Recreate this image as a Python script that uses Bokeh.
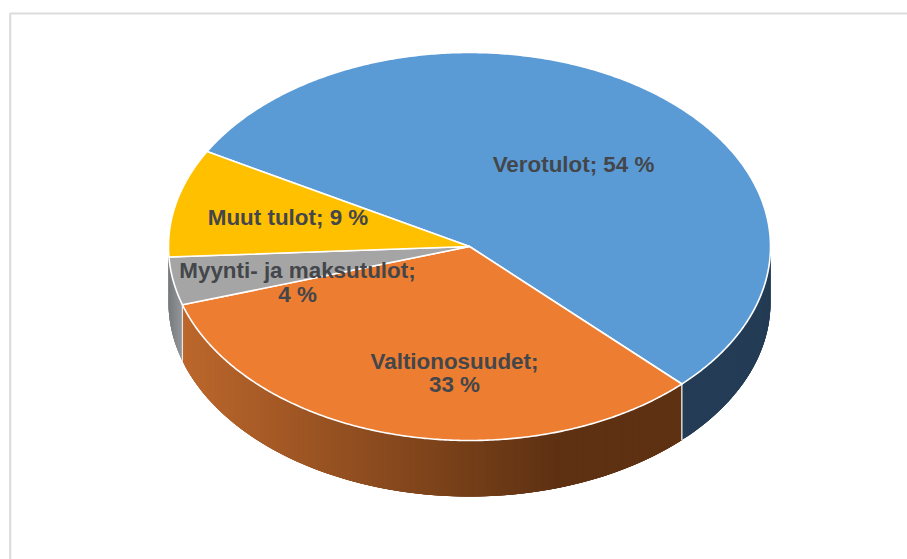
import numpy as np
from bokeh.plotting import figure
from bokeh.models import Range1d
from bokeh.core.properties import value
from bokeh.embed import file_html
from bokeh.resources import INLINE

# data (clockwise from the upper-left start); shares
categories = ["Verotulot", "Valtionosuudet", "Myynti- ja maksutulot", "Muut tulot"]
shares = [54.4, 32.6, 4, 9]
colors = ["#5b9bd5", "#ed7d31", "#a5a5a5", "#ffc000"]
labels = ["Verotulot; 54 %", "Valtionosuudet;\n33 %", "Myynti- ja maksutulot;\n4 %", "Muut tulot; 9 %"]

# layout
W, H = 907, 559
CX, CY, RX, RY, DEPTH = 469, 246, 301, 194, 56
START_DEG = 150.7
label_x = [573, 454, 297, 287.5]
label_y = [164, 372.5, 282, 217]

p = figure(width=W, height=H, output_backend="svg", toolbar_location=None,
           x_range=Range1d(0, W), y_range=Range1d(H, 0), min_border=0,
           x_axis_type=None, y_axis_type=None, outline_line_color=None,
           background_fill_color="white", border_fill_color="white")
p.grid.visible = False

# frame
p.line([9.7, 9.7, W], [H, 13, 13], line_color="#dcdcdc", line_width=2.2)


def pt(deg):
    a = np.radians(deg)
    return CX + RX * np.cos(a), CY - RY * np.sin(a)


edges = START_DEG - np.cumsum([0] + shares) * 3.6


def lerp(c1, c2, t):
    t = min(max(t, 0.0), 1.0)
    return "#%02x%02x%02x" % tuple(int(round(a + (b - a) * t)) for a, b in zip(c1, c2))


def side_color(i, x):
    if i == 1:
        return lerp((188, 103, 44), (94, 49, 18), (x - 182) / 375)
    if i == 2:
        return lerp((118, 122, 126), (150, 152, 155), (x - 168) / 14)
    return "#243c55"


# side walls, visible lower half only; strips overlap so no seams appear
xs, ys, cs = [], [], []
for i, hi_v, lo_v in [(2, edges[2], -180.0), (0, 0.0, edges[1]), (1, edges[1], edges[2])]:
    n = int(max(abs(hi_v - lo_v) * 2, 2))
    ang = np.linspace(lo_v, hi_v, n + 1)
    for k in range(n):
        a, b = ang[k], ang[min(k + 4, n)]
        x1, y1 = pt(a)
        x2, y2 = pt(b)
        mid = pt((ang[k] + ang[k + 1]) / 2)[0]
        xs.append([x1, x2, x2, x1])
        ys.append([y1, y2, y2 + DEPTH, y1 + DEPTH])
        cs.append(side_color(i, mid))
p.patches(xs, ys, fill_color=cs, line_color=None)

# vertical seams at visible slice borders
sx, sy = pt(edges[1])
p.line([sx, sx], [sy, sy + DEPTH], line_color="#d8d8d8", line_width=1.5)
sx, sy = pt(edges[2])
p.line([sx, sx], [sy, sy + DEPTH], line_color="#e8e8e8", line_width=1.2)

# top faces
txs, tys = [], []
for i in range(4):
    ang = np.linspace(edges[i], edges[i + 1], int(abs(edges[i] - edges[i + 1]) * 2) + 2)
    px, py = pt(ang)
    txs.append([CX] + list(px))
    tys.append([CY] + list(py))
p.patches(txs, tys, fill_color=colors, line_color="white", line_width=1.6, line_join="round")

# labels
p.text(label_x, label_y, text=labels, text_font=value("Liberation Sans"), text_font_style="bold",
       text_font_size="22.4px", text_color="#43464a", text_align="center", text_baseline="middle",
       text_line_height=0.95)

open("out.html", "w").write(file_html(p, INLINE))
